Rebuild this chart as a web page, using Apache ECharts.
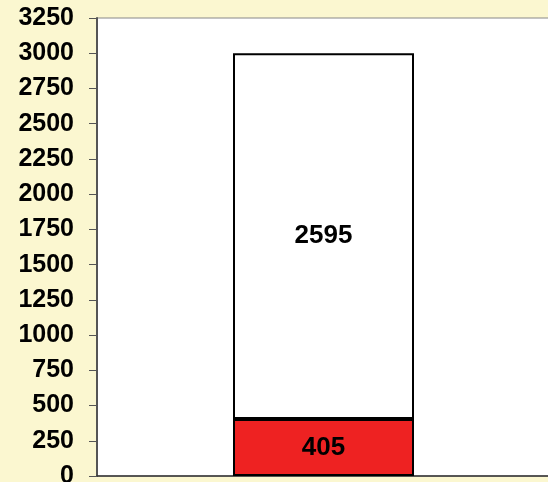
<!DOCTYPE html>
<html>
<head>
<meta charset="utf-8">
<script src="https://cdn.jsdelivr.net/npm/echarts@6/dist/echarts.min.js"></script>
<style>
  html, body { margin: 0; padding: 0; background: #fbf7d0; }
  #chart { width: 548px; height: 482px; }
</style>
</head>
<body>
<div id="chart"></div>
<script>
// data
var categories = [''];
var bottomValues = [405];
var topValues = [2595];
var yTicks = [0, 250, 500, 750, 1000, 1250, 1500, 1750, 2000, 2250, 2500, 2750, 3000, 3250];

var myChart = echarts.init(document.getElementById('chart'));

var labelStyle = {
    show: true,
    position: 'inside',
    color: '#000',
    fontFamily: 'Liberation Sans, Arial, sans-serif',
    fontWeight: 'bold',
    fontSize: 26
};

var option = {
    backgroundColor: '#fbf7d0',
    animation: false,
    grid: {
        left: 97,
        top: 18,
        right: -2,
        bottom: 6,
        outerBoundsMode: 'none',
        show: true,
        backgroundColor: '#fff',
        borderColor: '#888',
        borderWidth: 1
    },
    xAxis: {
        type: 'category',
        data: categories,
        axisLine: { lineStyle: { color: '#333', width: 1.5 } },
        axisTick: { show: false },
        axisLabel: { show: false }
    },
    yAxis: {
        type: 'value',
        min: yTicks[0],
        max: yTicks[yTicks.length - 1],
        interval: 250,
        splitLine: { show: false },
        axisLine: { show: true, lineStyle: { color: '#555', width: 2 } },
        axisTick: { show: true, length: 8, lineStyle: { color: '#555' } },
        axisLabel: {
            color: '#000',
            fontFamily: 'Liberation Sans, Arial, sans-serif',
            fontWeight: 'bold',
            fontSize: 25,
            margin: 23,
            formatter: function (v) { return String(v); }
        }
    },
    series: [
        {
            type: 'bar',
            stack: 'total',
            barWidth: 181,
            data: bottomValues,
            itemStyle: { color: '#ee2222', borderColor: '#000', borderWidth: 2 },
            label: labelStyle
        },
        {
            type: 'bar',
            stack: 'total',
            barWidth: 181,
            data: topValues,
            itemStyle: { color: '#fff', borderColor: '#000', borderWidth: 2 },
            label: labelStyle
        }
    ]
};

myChart.setOption(option);
</script>
</body>
</html>
